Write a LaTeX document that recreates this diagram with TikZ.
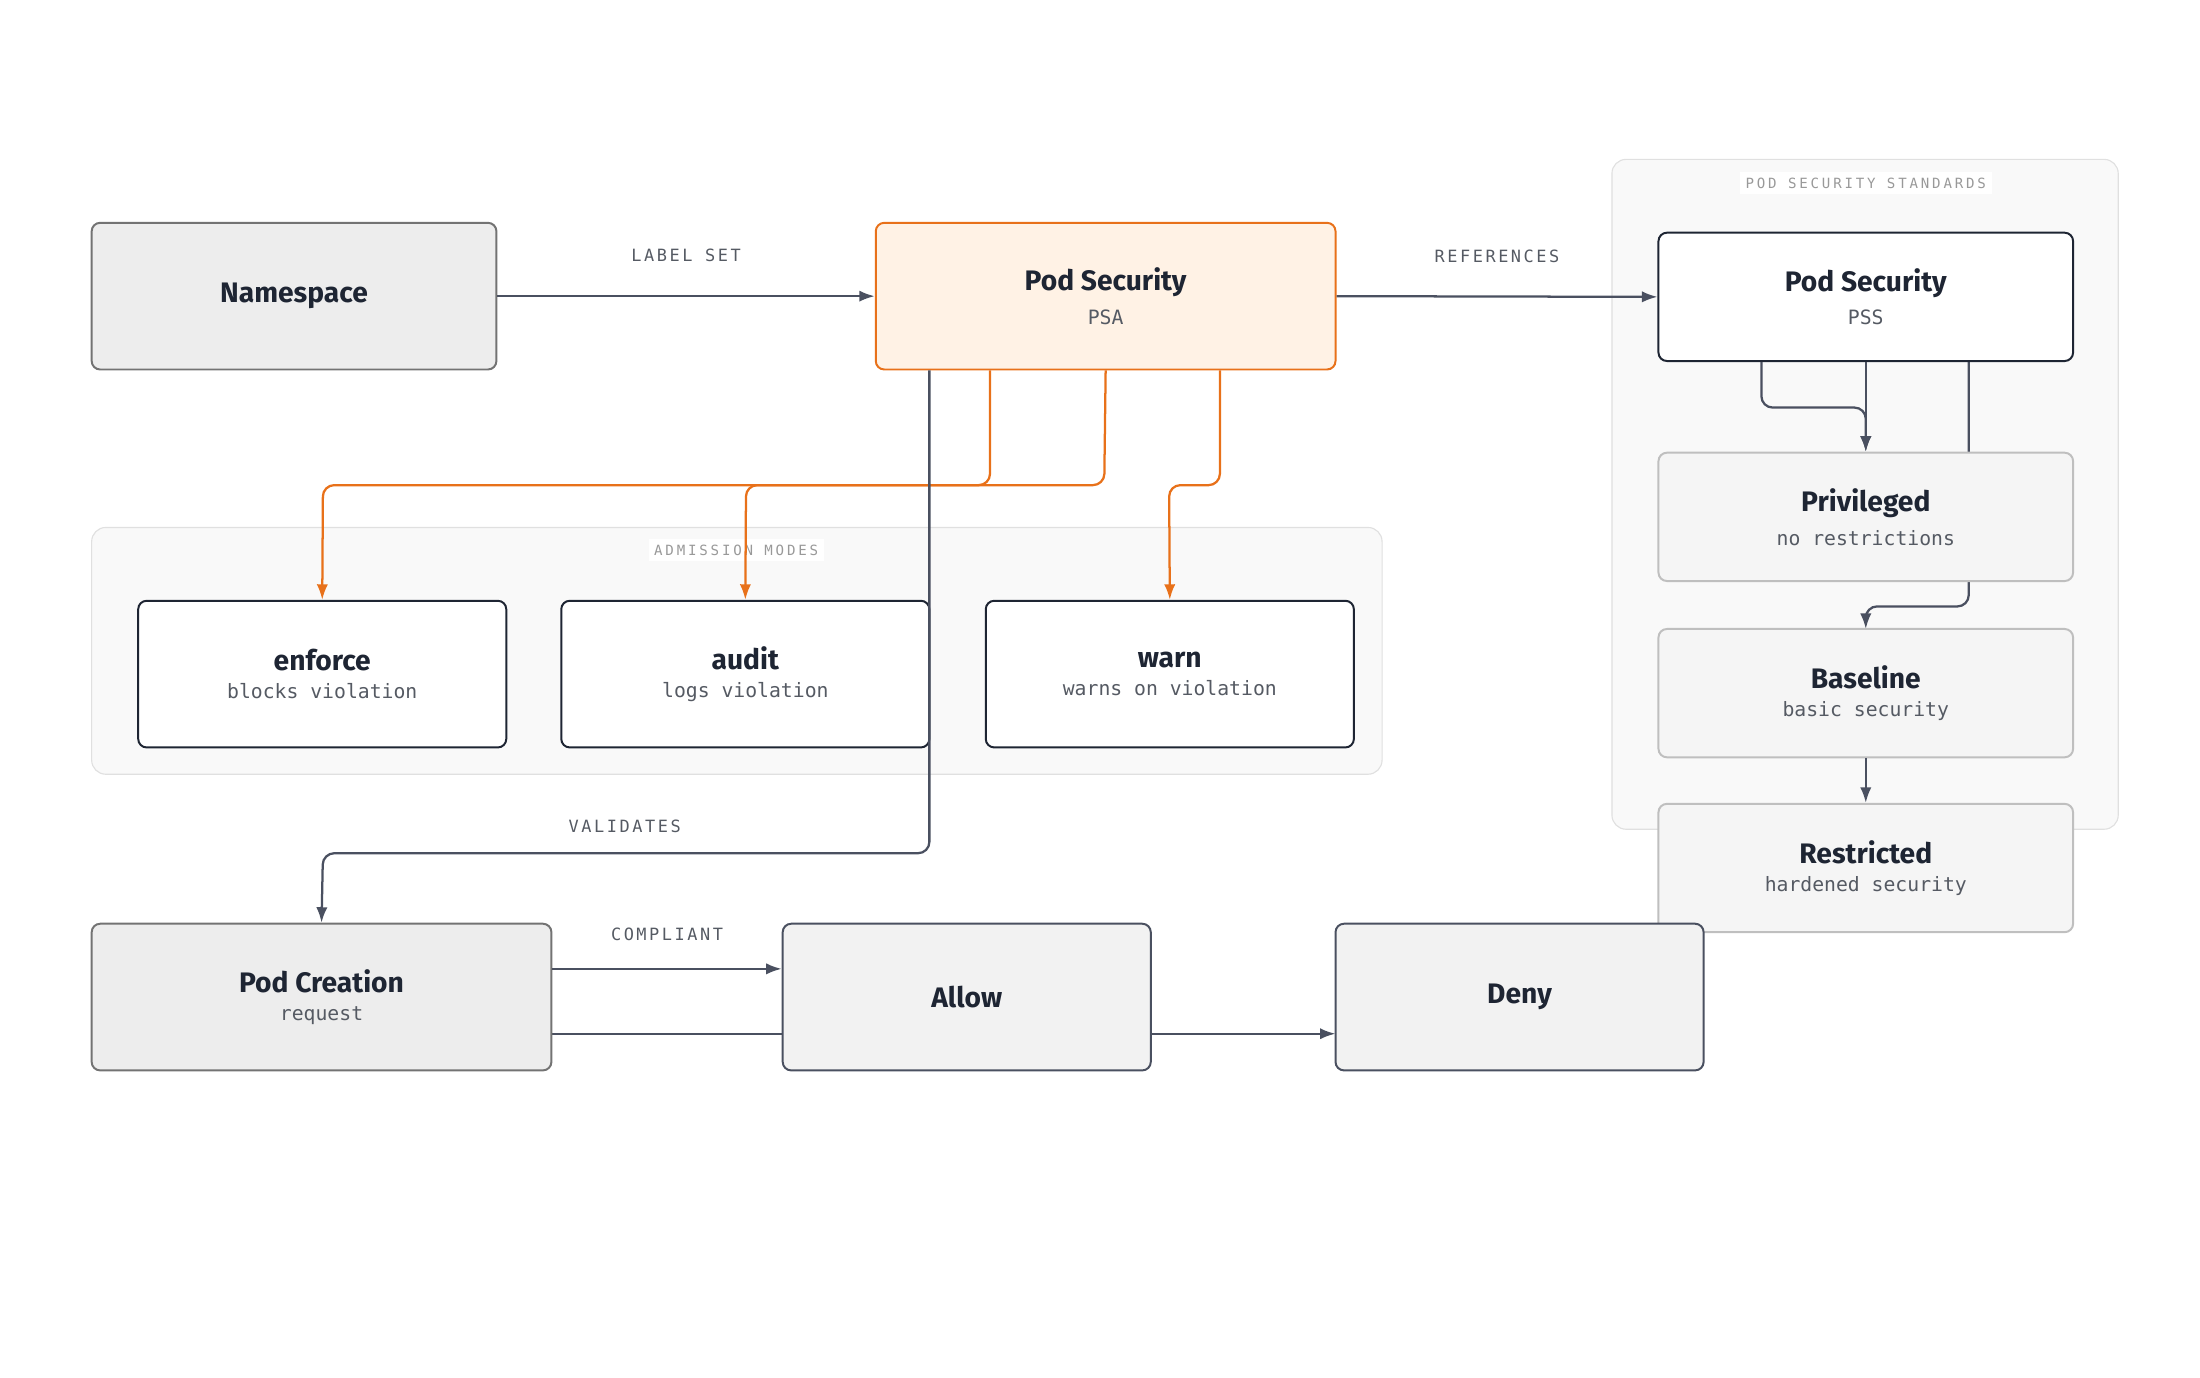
\documentclass[tikz,border=0pt]{standalone}
\usepackage{fontspec}
\setmainfont{Fira Sans}
\newfontfamily\monof{DejaVu Sans Mono}
\usetikzlibrary{arrows.meta,backgrounds}
\definecolor{ink}{HTML}{1E2533}
\definecolor{edge}{HTML}{4A5060}
\definecolor{orng}{HTML}{E8711A}
\definecolor{sub}{HTML}{555A63}
\tikzset{
 x=1pt,y=-1pt,
 box/.style={draw=ink,line width=1.4pt,rounded corners=6pt,fill=white,align=center,text=ink,inner sep=0pt},
 grp/.style={draw=black!12,fill=black!2.5,rounded corners=10pt,line width=0.8pt},
 grl/.style={fill=white,text=black!40,font=\monof\fontsize{10}{12}\selectfont\addfontfeature{LetterSpace=20},inner sep=4pt},
 el/.style={text=sub,font=\monof\fontsize{12}{14}\selectfont\addfontfeature{LetterSpace=15}},
 ar/.style={draw=edge,line width=1.6pt,-{Latex[length=11pt,width=8pt]},rounded corners=8pt},
 oar/.style={ar,draw=orng,-{Latex[length=11pt,width=8pt]}},
 ln/.style={draw=edge,line width=1.6pt,rounded corners=8pt},
}
\newcommand{\twol}[2]{{\fontsize{20}{24}\selectfont\bfseries #1}\\[8pt]{\monof\fontsize{14}{16}\selectfont\color{sub}#2}}
\newcommand{\onel}[1]{{\fontsize{20}{24}\selectfont\bfseries #1}}
\begin{document}
\begin{tikzpicture}
\useasboundingbox (0,0) rectangle (1560,977);
\draw[grp] (1143,113) rectangle (1502,588);
\node[grl] (gl1) at (1323,130) {POD SECURITY STANDARDS};
\draw[grp] (65,374) rectangle (980,549);
\node[grl] (gl2) at (522,390) {ADMISSION MODES};
% behind edges
\coordinate (pb) at (1396,256);
\coordinate (pc) at (1396,412);
\draw[ar] (pb) -- (pc) -- (1396,430) -- (1323,430) -- (1323,446);
\coordinate (dd) at (391,733);
\draw[ar] (dd) -- (947,733);
% nodes
\node[box,draw=black!55,fill=black!7,minimum width=287,minimum height=104] (ns) at (208.5,210) {\onel{Namespace}};
\node[box,draw=orng,fill=orange!10,minimum width=326,minimum height=104] (psa) at (784,210) {\twol{Pod Security}{PSA}};
\node[box,minimum width=294,minimum height=91] (pss) at (1323,210.5) {\twol{Pod Security}{PSS}};
\node[box,draw=black!25,fill=black!4,minimum width=294,minimum height=91] (priv) at (1323,366.5) {\twol{Privileged}{no restrictions}};
\node[box,draw=black!25,fill=black!4,minimum width=294,minimum height=91] (base) at (1323,491.5) {\twol{Baseline}{basic security}};
\node[box,draw=black!25,fill=black!4,minimum width=294,minimum height=91] (rest) at (1323,615.5) {\twol{Restricted}{hardened security}};
\node[box,minimum width=261,minimum height=104] (enf) at (228.5,478) {\twol{enforce}{blocks violation}};
\node[box,minimum width=261,minimum height=104] (aud) at (528.5,478) {\twol{audit}{logs violation}};
\node[box,minimum width=261,minimum height=104] (warn) at (829.5,478) {\twol{warn}{warns on violation}};
\node[box,draw=black!55,fill=black!7,minimum width=326,minimum height=104] (pod) at (228,707) {\twol{Pod Creation}{request}};
\node[box,draw=edge,fill=black!5,minimum width=261,minimum height=104] (allow) at (685.5,707) {\onel{Allow}};
\node[box,draw=edge,fill=black!5,minimum width=261,minimum height=104] (deny) at (1077.5,707) {\onel{Deny}};
% edges
\draw[ar] (ns.east) -- (psa.west) node[el,midway,above=20pt] {LABEL SET};
\draw[ar] (psa.east) -- (pss.west) node[el,midway,above=20pt] {REFERENCES};
\draw[oar] (psa.south -| 702,0) -- (702,344) -- (229,344) -- (enf.north);
\draw[oar] (psa.south) -- (783,344) -- (529,344) -- (aud.north);
\draw[oar] (psa.south -| 865,0) -- (865,344) -- (829,344) -- (warn.north);
\draw[ar] (psa.south -| 659,0) -- (659,605) -- (229,605) -- (pod.north);
\node[el] (vl) at (443,586) {VALIDATES};
\draw[ar] (pss.south -| 1249,0) -- (1249,289) -- (1323,289) -- (priv.north);
\draw[ar] (pss.south) -- (priv.north);
\draw[ar] (base.south) -- (rest.north);
\draw[ar] (pod.east |- 0,687) -- (allow.west |- 0,687) node[el,midway,above=16pt] {COMPLIANT};
\end{tikzpicture}
\end{document}
